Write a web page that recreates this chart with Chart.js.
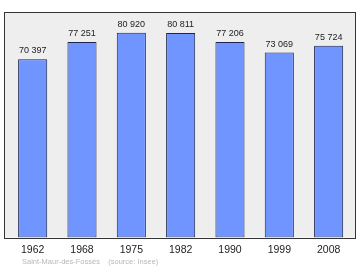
<!DOCTYPE html>
<html>
<head>
<meta charset="utf-8">
<script src="https://cdn.jsdelivr.net/npm/chart.js@4/dist/chart.umd.min.js"></script>
<style>
    body { margin: 0; background: #fff; }
    #wrap { position: relative; width: 360px; height: 270px; }
    #footer {
        position: absolute; left: 22px; top: 257px;
        font: 7.5px "Liberation Sans", Arial, sans-serif;
        color: #b8b8b8; white-space: pre;
    }
</style>
</head>
<body>
<div id="wrap">
    <canvas id="popChart" width="360" height="270"></canvas>
    <div id="footer">Saint-Maur-des-Fossés    (source: Insee)</div>
</div>
<script>
// Données : population par recensement
const years = ['1962', '1968', '1975', '1982', '1990', '1999', '2008'];
const population = [70397, 77251, 80920, 80811, 77206, 73069, 75724];

function formatPop(n) {
    return String(n).replace(/\B(?=(\d{3})+(?!\d))/g, ' ');
}

// cadre gris derrière les barres
const framePlugin = {
    id: 'frame',
    beforeDraw(chart) {
        const { ctx, chartArea } = chart;
        const x0 = chartArea.left - 4, x1 = chartArea.right + 2.2;
        ctx.save();
        ctx.fillStyle = '#eeeeee';
        ctx.fillRect(x0, chartArea.top, x1 - x0, chartArea.bottom - chartArea.top);
        ctx.strokeStyle = '#333333';
        ctx.lineWidth = 1;
        ctx.strokeRect(Math.round(x0) + 0.5, Math.round(chartArea.top) + 0.5,
            Math.round(x1 - x0) - 1, Math.round(chartArea.bottom - chartArea.top));
        ctx.restore();
    }
};

// étiquettes de valeur au-dessus des barres
const valueLabels = {
    id: 'valueLabels',
    afterDatasetsDraw(chart) {
        const { ctx } = chart;
        const meta = chart.getDatasetMeta(0);
        ctx.save();
        ctx.font = '9px "Liberation Sans", Arial, sans-serif';
        ctx.fillStyle = '#222';
        ctx.textAlign = 'center';
        ctx.textBaseline = 'alphabetic';
        meta.data.forEach((bar, i) => {
            ctx.fillText(formatPop(population[i]), bar.x, bar.y - 6);
        });
        ctx.restore();
    }
};

new Chart(document.getElementById('popChart'), {
    type: 'bar',
    data: {
        labels: years,
        datasets: [{
            data: population,
            backgroundColor: '#7095ff',
            borderColor: '#1c2550',
            borderWidth: 1,
            borderSkipped: false,
            categoryPercentage: 1,
            barPercentage: 0.59
        }]
    },
    options: {
        responsive: false,
        animation: false,
        layout: { padding: { left: 8, right: 6.7, top: 12, bottom: 0 } },
        plugins: {
            legend: { display: false },
            tooltip: { enabled: false }
        },
        scales: {
            x: {
                grid: { display: false, drawTicks: false, tickLength: 0 },
                border: { display: false },
                ticks: {
                    color: '#222',
                    font: { family: '"Liberation Sans", Arial, sans-serif', size: 10.5 },
                    padding: 6,
                    maxRotation: 0
                },
                afterFit(scale) { scale.height = 32.5; }
            },
            y: {
                display: false,
                min: 0,
                max: 89100
            }
        }
    },
    plugins: [framePlugin, valueLabels]
});
</script>
</body>
</html>
